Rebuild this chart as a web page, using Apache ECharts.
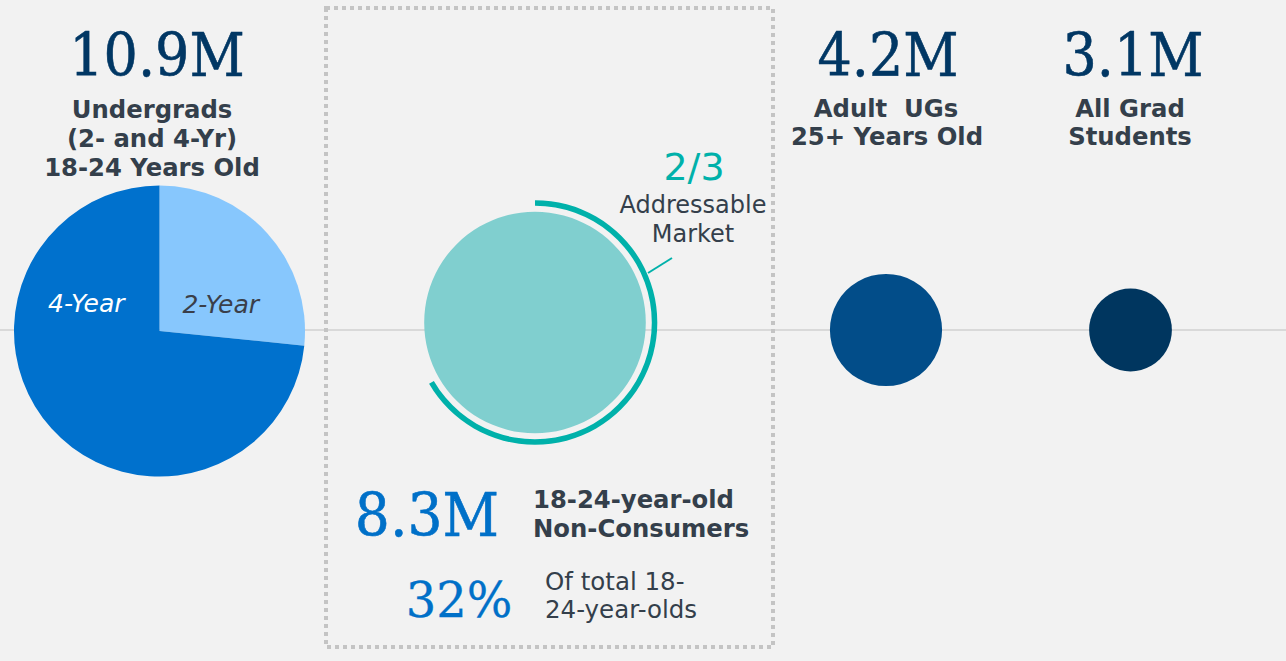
<!DOCTYPE html>
<html>
<head>
<meta charset="utf-8">
<script src="https://cdn.jsdelivr.net/npm/echarts@6/dist/echarts.min.js"></script>
<style>
  html, body { margin: 0; padding: 0; background: #f2f2f2; }
  #chart { width: 1286px; height: 661px; }
</style>
</head>
<body>
<div id="chart"></div>
<script>
// Student population segments, in millions
const segments = ['Undergrads 18-24', 'Non-Consumers 18-24', 'Adult UGs 25+', 'All Grad Students'];
const segmentTotals = [10.9, 8.3, 4.2, 3.1];
const totalLabels = ['10.9M', '8.3M', '4.2M', '3.1M'];
const segmentCaptions = [
  ['Undergrads', '(2- and 4-Yr)', '18-24 Years Old'],
  ['18-24-year-old', 'Non-Consumers'],
  ['Adult  UGs', '25+ Years Old'],
  ['All Grad', 'Students']
];
// Split of the 18-24 undergrads by institution type (millions)
const institutionTypes = ['2-Year', '4-Year'];
const institutionValues = [2.9, 8.0];
// Share of the non-consumers that is addressable
const addressableShare = 2 / 3;
const addressableText = '2/3';
const addressableCaption = ['Addressable', 'Market'];
// Non-consumers as a share of all 18-24-year-olds
const shareOfAgeGroup = 32;
const shareCaption = ['Of total 18-', '24-year-olds'];

// circle radius grows linearly with the segment size
const PX_PER_MILLION = 13.35;
const rad = v => v * PX_PER_MILLION;

const NAVY = '#013764';
const SLATE = '#343f4b';
const BLUE = '#0071cd';
const TEAL = '#00b1aa';
const SANS = '"DejaVu Sans", Verdana, sans-serif';
const SERIF = '"DejaVu Serif", serif';

// text placed by its baseline
function txt(str, x, baseline, o) {
  const size = o.size;
  const style = {
    text: str,
    x: 0, y: 0,
    fill: o.color || SLATE,
    font: (o.italic ? 'italic ' : '') + (o.bold ? 'bold ' : '') + size + 'px ' + (o.family || SANS),
    textAlign: o.align || 'center',
    textVerticalAlign: 'middle'
  };
  if (o.stroke) {
    style.stroke = o.color;
    style.lineWidth = o.stroke;
  }
  return {
    type: 'text',
    x: x,
    y: baseline - size * 0.35,
    scaleX: o.scaleX || 1,
    z: 10,
    style: style
  };
}
function bigNum(str, x, baseline, color, size, scaleX, stroke) {
  return txt(str, x, baseline, {
    size: size || 60, color: color || NAVY, family: SERIF,
    scaleX: scaleX || 0.9, stroke: stroke === undefined ? 0.6 : stroke
  });
}
const BOLD = { size: 24.3, bold: true };

const chart = echarts.init(document.getElementById('chart'), null, { renderer: 'svg' });

const circleBase = {
  type: 'pie',
  silent: true,
  animation: false,
  startAngle: 90,
  clockwise: true,
  label: { show: false },
  labelLine: { show: false },
  itemStyle: { borderWidth: 0 },
  emphasis: { disabled: true }
};

const ncR = rad(segmentTotals[1]);

const graphics = [
  // baseline rule running across the page
  { type: 'line', z: 0, shape: { x1: 0, y1: 330, x2: 1286, y2: 330 }, style: { stroke: '#d9d9d9', lineWidth: 2 } },
  // dotted frame around the non-consumer block
  { type: 'rect', z: 1, shape: { x: 326, y: 8, width: 447, height: 639 }, style: { fill: 'none', stroke: '#c4c4c4', lineWidth: 4, lineDash: [4, 4] } },
  // leader from the arc to its caption
  { type: 'line', z: 5, shape: { x1: 648, y1: 273, x2: 672, y2: 258 }, style: { stroke: TEAL, lineWidth: 2 } },

  bigNum(totalLabels[0], 157, 76),
  txt(segmentCaptions[0][0], 152, 118, BOLD),
  txt(segmentCaptions[0][1], 152, 147, BOLD),
  txt(segmentCaptions[0][2], 152, 176, BOLD),

  bigNum(totalLabels[2], 888, 76),
  txt(segmentCaptions[2][0], 886, 117, BOLD),
  txt(segmentCaptions[2][1], 887, 145, BOLD),

  bigNum(totalLabels[3], 1133, 76),
  txt(segmentCaptions[3][0], 1130, 117, BOLD),
  txt(segmentCaptions[3][1], 1130, 145, BOLD),

  txt(addressableText, 694, 180, { size: 38, color: TEAL }),
  txt(addressableCaption[0], 693, 213, { size: 24 }),
  txt(addressableCaption[1], 693, 242, { size: 24 }),

  bigNum(totalLabels[1], 427, 536, '#0070c8', 60, 0.92),
  txt(segmentCaptions[1][0], 533, 508, Object.assign({ align: 'left' }, BOLD)),
  txt(segmentCaptions[1][1], 533, 537, Object.assign({ align: 'left' }, BOLD)),

  bigNum(shareOfAgeGroup + '%', 459, 617, '#0070c8', 48, 1.0, 0.3),
  txt(shareCaption[0], 545, 590, { size: 24.5, align: 'left' }),
  txt(shareCaption[1], 545, 618, { size: 24.5, align: 'left' })
];

chart.setOption({
  backgroundColor: '#f2f2f2',
  animation: false,
  graphic: { elements: graphics },
  series: [
    {
      // 18-24 undergrads split by institution type
      type: 'pie',
      name: segments[0],
      silent: true,
      animation: false,
      center: [159.5, 331],
      radius: rad(segmentTotals[0]),
      startAngle: 90,
      clockwise: true,
      avoidLabelOverlap: false,
      itemStyle: { borderWidth: 0 },
      emphasis: { disabled: true },
      labelLine: { show: false },
      label: {
        show: true,
        position: 'inside',
        formatter: '{b}',
        fontFamily: SANS,
        fontStyle: 'italic',
        fontSize: 25,
        textBorderWidth: 0
      },
      data: [
        { name: institutionTypes[0], value: institutionValues[0], itemStyle: { color: '#87c7fd' },
          label: { color: '#3a3f4a', offset: [5, 24] } },
        { name: institutionTypes[1], value: institutionValues[1], itemStyle: { color: BLUE },
          label: { color: '#ffffff', offset: [-17, -78] } }
      ]
    },
    Object.assign({}, circleBase, {
      name: segments[1],
      center: [535, 322.5],
      radius: ncR,
      data: [{ name: segments[1], value: segmentTotals[1], itemStyle: { color: '#80cfcf' } }]
    }),
    Object.assign({}, circleBase, {
      name: 'Addressable',
      center: [535, 322.5],
      radius: [ncR + 6, ncR + 11.5],
      data: [
        { name: 'Addressable', value: addressableShare, itemStyle: { color: TEAL } },
        { name: 'Other', value: 1 - addressableShare, itemStyle: { color: 'rgba(0,0,0,0)' } }
      ]
    }),
    Object.assign({}, circleBase, {
      name: segments[2],
      center: [886, 330],
      radius: rad(segmentTotals[2]),
      data: [{ name: segments[2], value: segmentTotals[2], itemStyle: { color: '#024d89' } }]
    }),
    Object.assign({}, circleBase, {
      name: segments[3],
      center: [1130.5, 330],
      radius: rad(segmentTotals[3]),
      data: [{ name: segments[3], value: segmentTotals[3], itemStyle: { color: '#00365f' } }]
    })
  ]
});
</script>
</body>
</html>
